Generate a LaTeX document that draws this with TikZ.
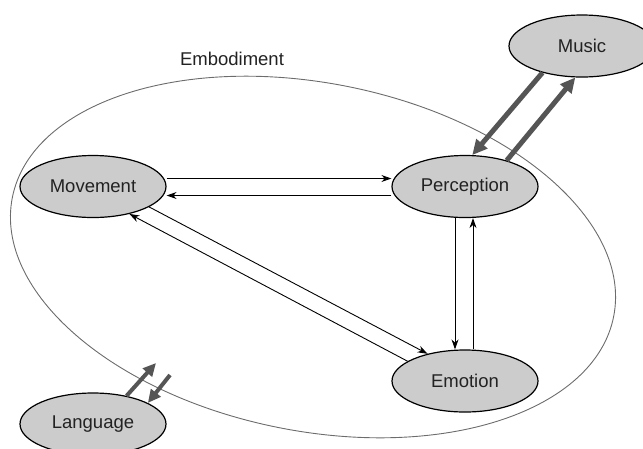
\documentclass[tikz,border=0pt]{standalone}
\usepackage{fontspec}
\setmainfont{Liberation Sans}
\usetikzlibrary{shapes.geometric,arrows.meta}
\definecolor{nodefill}{RGB}{204,204,204}
\definecolor{thickgray}{RGB}{85,85,85}
\definecolor{txt}{RGB}{34,34,34}
\tikzset{
  concept/.style={ellipse, draw=black, line width=1.2pt, fill=nodefill, inner sep=0pt,
    minimum width=146pt, minimum height=62pt, text=txt, font=\fontsize{18.5}{22}\selectfont},
  thin/.style={draw=black, line width=0.9pt, -{Stealth[length=10pt,width=7pt]}},
  thick/.style={draw=thickgray, line width=5pt, -{Triangle[length=15pt,width=14pt]}},
  thicklang/.style={draw=thickgray, line width=4pt, -{Triangle[length=13pt,width=12pt]}},
}
\begin{document}
\begin{tikzpicture}[x=1pt,y=-1pt]
\useasboundingbox (0,0) rectangle (643,448);
\clip (0,0) rectangle (643,448);
\node[ellipse, draw=gray!85!black, line width=0.9pt, minimum width=613pt, minimum height=348pt, inner sep=0pt, rotate=-11.2] (emb) at (313,257) {};
\node[text=txt, font=\fontsize{18.5}{22}\selectfont] (emblabel) at (232,59) {Embodiment};
\node[concept] (mov) at (93,186.5) {Movement};
\node[concept] (per) at (465,186.5) {Perception};
\node[concept] (emo) at (465,381) {Emotion};
\node[concept] (mus) at (582,46) {Music};
\node[concept] (lan) at (93,424) {Language};
\coordinate (lu) at (156,363);
\coordinate (ld) at (170,375);
% horizontal
\draw[thin] ([yshift=8pt]mov.east) -- ([yshift=8pt]per.west);
\draw[thin] ([yshift=-9pt]per.west) -- ([yshift=-9pt]mov.east);
% vertical
\draw[thin] ([xshift=-10pt]per.south) -- ([xshift=-10pt]emo.north);
\draw[thin] ([xshift=8pt]emo.north) -- ([xshift=8pt]per.south);
% diagonal
\draw[thin] (mov.-20.4) -- (emo.144);
\draw[thin] (emo.161.3) -- (mov.-37.8);
% music
\draw[thick] (mus.214.6) -- (per.77.7);
\draw[thick] (per.32.7) -- (mus.-102);
% language
\draw[thicklang] (lan.40.5) -- (lu);
\draw[thicklang] (ld) -- (lan.21);
\end{tikzpicture}
\end{document}
